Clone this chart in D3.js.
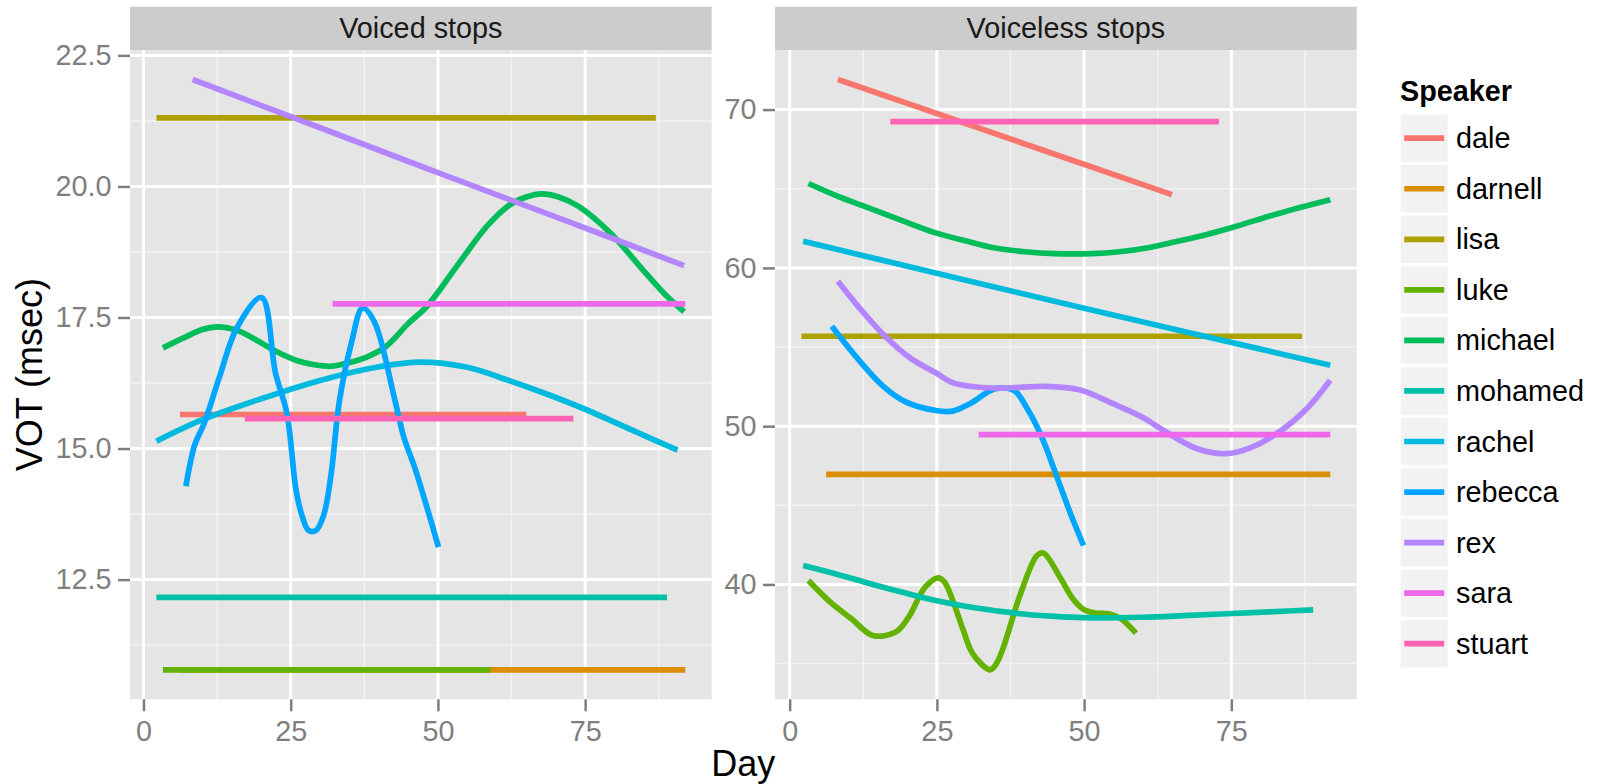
<!DOCTYPE html>
<html>
<head>
<meta charset="utf-8">
<script src="https://cdn.jsdelivr.net/npm/d3@7"></script>
<style>
  body { margin: 0; background: #fff; }
  svg { display: block; font-family: "Liberation Sans", Arial, Helvetica, sans-serif; }
</style>
</head>
<body>
<svg id="chart" width="1598" height="784"></svg>
<script>
// Speakers and their colours (ggplot hue palette order)
const speakers = ["dale", "darnell", "lisa", "luke", "michael", "mohamed", "rachel", "rebecca", "rex", "sara", "stuart"];
const speakerColors = ["#F8766D", "#DB8E00", "#AEA200", "#64B200", "#00BD5C", "#00C1A7", "#00BADE", "#00A6FF", "#B385FF", "#EF67EB", "#FF63B6"];

const facetTitles = ["Voiced stops", "Voiceless stops"];
const dayTicks = [0, 25, 50, 75];
const voicedTicks = [12.5, 15, 17.5, 20, 22.5];
const voicedTickLabels = ["12.5", "15.0", "17.5", "20.0", "22.5"];
const voicelessTicks = [40, 50, 60, 70];
const voicelessTickLabels = ["40", "50", "60", "70"];

// Smoothed VOT by day, voiced stops: [day, msec]
const voicedDale = [[6.2, 15.65], [65.0, 15.65]];
const voicedDarnell = [[6.2, 10.78], [92.0, 10.78]];
const voicedLisa = [[2.2, 21.31], [87.0, 21.31]];
const voicedLuke = [[3.3, 10.78], [58.9, 10.78]];
const voicedMichael = [[3.3, 16.92], [7, 17.12], [10, 17.27], [12.6, 17.32], [16, 17.25], [19, 17.08], [22.4, 16.86], [26, 16.68], [29, 16.6], [31.8, 16.57], [35, 16.64], [38, 16.75], [41.1, 16.94], [45, 17.39], [48.1, 17.71], [53.6, 18.54], [58.3, 19.24], [62.2, 19.65], [65, 19.8], [67.6, 19.86], [70.5, 19.8], [73.9, 19.62], [79.3, 19.11], [84.8, 18.41], [88.5, 17.95], [91.8, 17.61]];
const voicedMohamed = [[2.2, 12.16], [88.9, 12.16]];
const voicedRachel = [[2.2, 15.14], [10, 15.55], [20, 15.95], [30, 16.3], [40, 16.56], [47, 16.65], [55, 16.55], [62, 16.3], [68, 16.06], [75, 15.75], [83, 15.35], [90.7, 14.97]];
const voicedRebecca = [[7.2, 14.28], [8.7, 15.07], [10.3, 15.48], [13, 16.4], [15.8, 17.29], [20.05, 17.88], [22.4, 16.45], [24.35, 15.67], [25.9, 14.21], [26.9, 13.73], [28.0, 13.44], [29.3, 13.44], [30.6, 13.73], [31.8, 14.46], [33.3, 15.93], [35.3, 17.01], [37.2, 17.68], [39.2, 17.42], [42.7, 15.92], [44.2, 15.22], [46.2, 14.59], [50.1, 13.12]];
const voicedRex = [[8.35, 22.04], [30, 21.12], [50.1, 20.26], [70, 19.42], [91.8, 18.49]];
const voicedSara = [[32.1, 17.76], [92.0, 17.76]];
const voicedStuart = [[17.2, 15.57], [73.0, 15.57]];

// Smoothed VOT by day, voiceless stops: [day, msec]
const voicelessDale = [[8.2, 71.9], [64.9, 64.63]];
const voicelessDarnell = [[6.2, 46.95], [91.8, 46.95]];
const voicelessLisa = [[2.0, 55.68], [87.0, 55.68]];
const voicelessLuke = [[3.2, 40.25], [6.9, 38.88], [10.5, 37.83], [14.1, 36.78], [18.0, 36.99], [20.2, 37.93], [23.0, 39.83], [25.2, 40.42], [26.3, 40.15], [27.7, 38.99], [29.5, 37.09], [31.1, 35.62], [34.0, 34.61], [34.9, 34.88], [36.1, 35.83], [39.2, 39.41], [42.0, 41.83], [43.1, 41.98], [45.9, 40.46], [48.1, 39.1], [50.0, 38.4], [52.0, 38.19], [54.2, 38.15], [56.3, 37.83], [58.8, 36.92]];
const voicelessMichael = [[3.2, 65.33], [8, 64.55], [13.4, 63.79], [19, 63.0], [24.8, 62.21], [30, 61.7], [34.9, 61.26], [40, 61.02], [44.9, 60.9], [51.3, 60.9], [56, 61.02], [60.6, 61.26], [65.5, 61.65], [70.7, 62.1], [76, 62.65], [81.4, 63.26], [86.5, 63.8], [91.8, 64.31]];
const voicelessMohamed = [[2.3, 41.2], [8, 40.65], [13.4, 40.08], [19, 39.52], [24.8, 38.99], [32, 38.5], [39.2, 38.15], [45, 37.98], [49.9, 37.9], [59.9, 37.93], [67, 38.03], [74.2, 38.15], [81.5, 38.27], [88.9, 38.4]];
const voicelessRachel = [[2.3, 61.68], [50, 57.45], [91.8, 53.85]];
const voicelessRebecca = [[7.16, 56.31], [11.2, 54.42], [15.9, 52.52], [19.8, 51.52], [24.8, 50.99], [27.7, 50.95], [30.6, 51.42], [34.9, 52.36], [38.1, 52.26], [40.2, 51.2], [42.7, 49.41], [45.6, 46.57], [47.7, 44.47], [49.9, 42.46]];
const voicelessRex = [[8.2, 59.15], [12, 57.4], [16.2, 55.68], [20.5, 54.3], [24.8, 53.37], [27.7, 52.75], [30.6, 52.52], [34.9, 52.4], [39, 52.45], [43.5, 52.52], [49.2, 52.3], [54.9, 51.42], [59.9, 50.57], [63.5, 49.73], [69.2, 48.57], [74.2, 48.26], [78.5, 48.67], [83.5, 49.73], [87.8, 51.1], [91.8, 52.9]];
const voicelessSara = [[32.1, 49.46], [91.8, 49.46]];
const voicelessStuart = [[17.1, 69.24], [72.9, 69.24]];

const voicedSeries = [voicedDale, voicedDarnell, voicedLisa, voicedLuke, voicedMichael, voicedMohamed, voicedRachel, voicedRebecca, voicedRex, voicedSara, voicedStuart];
const voicelessSeries = [voicelessDale, voicelessDarnell, voicelessLisa, voicelessLuke, voicelessMichael, voicelessMohamed, voicelessRachel, voicelessRebecca, voicelessRex, voicelessSara, voicelessStuart];

// ---- layout ----
const svg = d3.select("#chart");
const stripTop = 6.7, panelTop = 50, panelBottom = 699.3;
const panelsX = [[130, 711.7], [775, 1356.7]];
const grey50 = "#7F7F7F";
const textSize = 28.8, titleSize = 36;
const lineWidth = 5.7;

svg.append("rect").attr("width", 1598).attr("height", 784).attr("fill", "#fff");

// 5% expansion like ggplot's continuous scales
function expanded(ext) {
  const pad = (ext[1] - ext[0]) * 0.05;
  return [ext[0] - pad, ext[1] + pad];
}

const facets = [
  { title: facetTitles[0], series: voicedSeries, ticks: voicedTicks, labels: voicedTickLabels },
  { title: facetTitles[1], series: voicelessSeries, ticks: voicelessTicks, labels: voicelessTickLabels }
];

facets.forEach((f, i) => {
  const [x0, x1] = panelsX[i];
  const all = f.series.flat();
  const x = d3.scaleLinear().domain(expanded(d3.extent(all, d => d[0]))).range([x0, x1]);
  const y = d3.scaleLinear().domain(expanded(d3.extent(all, d => d[1]))).range([panelBottom, panelTop]);

  const g = svg.append("g");

  // strip
  g.append("rect").attr("x", x0).attr("y", stripTop).attr("width", x1 - x0).attr("height", panelTop - stripTop).attr("fill", "#CCCCCC");
  g.append("text").attr("x", (x0 + x1) / 2).attr("y", (stripTop + panelTop) / 2).attr("dy", "0.35em")
    .attr("text-anchor", "middle").attr("font-size", textSize).attr("fill", "#1A1A1A").text(f.title);

  // panel background
  g.append("rect").attr("x", x0).attr("y", panelTop).attr("width", x1 - x0).attr("height", panelBottom - panelTop).attr("fill", "#E5E5E5");

  // minor grid
  const xMinor = dayTicks.map(t => t + 12.5).concat([dayTicks[0] - 12.5]).filter(v => v >= x.domain()[0] && v <= x.domain()[1]);
  const step = f.ticks[1] - f.ticks[0];
  const yMinor = f.ticks.map(t => t + step / 2).concat([f.ticks[0] - step / 2]).filter(v => v >= y.domain()[0] && v <= y.domain()[1]);
  g.selectAll(".xminor").data(xMinor).join("line")
    .attr("x1", d => x(d)).attr("x2", d => x(d)).attr("y1", panelTop).attr("y2", panelBottom)
    .attr("stroke", "#F2F2F2").attr("stroke-width", 1.5);
  g.selectAll(".yminor").data(yMinor).join("line")
    .attr("y1", d => y(d)).attr("y2", d => y(d)).attr("x1", x0).attr("x2", x1)
    .attr("stroke", "#F2F2F2").attr("stroke-width", 1.5);

  // major grid
  g.selectAll(".xmajor").data(dayTicks).join("line")
    .attr("x1", d => x(d)).attr("x2", d => x(d)).attr("y1", panelTop).attr("y2", panelBottom)
    .attr("stroke", "#fff").attr("stroke-width", 3);
  g.selectAll(".ymajor").data(f.ticks).join("line")
    .attr("y1", d => y(d)).attr("y2", d => y(d)).attr("x1", x0).attr("x2", x1)
    .attr("stroke", "#fff").attr("stroke-width", 3);

  // smoothed lines, drawn in speaker order
  const line = d3.line().x(d => x(d[0])).y(d => y(d[1])).curve(d3.curveCatmullRom.alpha(0.5));
  g.selectAll(".series").data(f.series).join("path")
    .attr("d", line)
    .attr("fill", "none")
    .attr("stroke", (d, k) => speakerColors[k])
    .attr("stroke-width", lineWidth)
    .attr("stroke-linecap", "butt")
    .attr("stroke-linejoin", "round");

  // axes
  const xAxis = d3.axisBottom(x).tickValues(dayTicks).tickSize(12).tickPadding(9.5).tickFormat(d3.format("d"));
  const ax = svg.append("g").attr("transform", `translate(0,${panelBottom})`).call(xAxis);
  const yAxis = d3.axisLeft(y).tickValues(f.ticks).tickSize(12).tickPadding(6.5).tickFormat((d, k) => f.labels[k]);
  const ay = svg.append("g").attr("transform", `translate(${x0},0)`).call(yAxis);
  [ax, ay].forEach(a => {
    a.attr("font-family", null);
    a.select(".domain").remove();
    a.selectAll(".tick line").attr("stroke", grey50).attr("stroke-width", 2.5);
    a.selectAll(".tick text").attr("fill", grey50).attr("font-size", textSize);
  });
});

// axis titles
svg.append("text").attr("x", (panelsX[0][0] + panelsX[1][1]) / 2).attr("y", 776)
  .attr("text-anchor", "middle").attr("font-size", titleSize).attr("fill", "#000").text("Day");
svg.append("text").attr("transform", `translate(41.5,${(panelTop + panelBottom) / 2}) rotate(-90)`)
  .attr("text-anchor", "middle").attr("font-size", titleSize).attr("fill", "#000").text("VOT (msec)");

// legend
const legendX = 1400.7, legendTop = 114.5, keyPitch = 50.55, keyW = 47, keyH = 47.4;
svg.append("text").attr("x", 1400).attr("y", 101).attr("font-size", textSize).attr("font-weight", "bold")
  .attr("fill", "#000").text("Speaker");
const items = svg.selectAll(".legend-item").data(speakers).join("g")
  .attr("transform", (d, k) => `translate(${legendX},${legendTop + k * keyPitch})`);
items.append("rect").attr("width", keyW).attr("height", keyH).attr("fill", "#F2F2F2");
items.append("line").attr("x1", 3.5).attr("x2", keyW - 3.5).attr("y1", keyH / 2).attr("y2", keyH / 2)
  .attr("stroke", (d, k) => speakerColors[k]).attr("stroke-width", lineWidth);
items.append("text").attr("x", 1456 - legendX).attr("y", keyH / 2).attr("dy", "0.35em")
  .attr("font-size", textSize).attr("fill", "#000").text(d => d);
</script>
</body>
</html>
